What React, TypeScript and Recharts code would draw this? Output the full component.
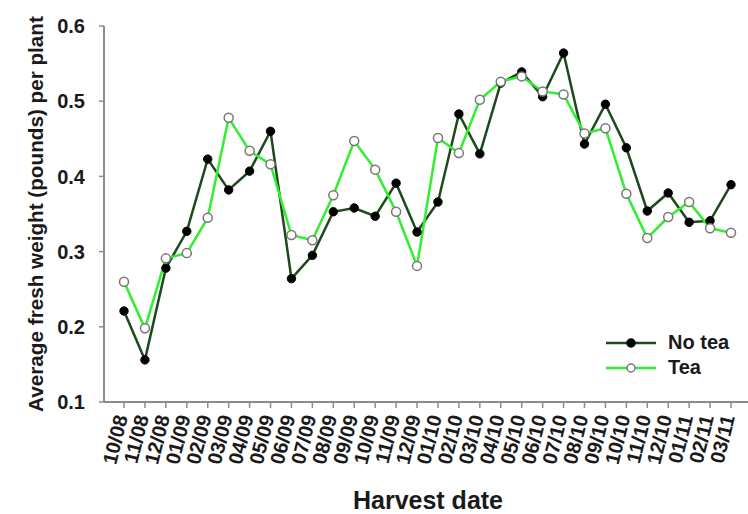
import React from 'react';
import { LineChart, Line, XAxis, YAxis, Legend, Label } from 'recharts';

const dates = [
    '10/08', '11/08', '12/08', '01/09', '02/09', '03/09', '04/09', '05/09', '06/09', '07/09',
    '08/09', '09/09', '10/09', '11/09', '12/09', '01/10', '02/10', '03/10', '04/10', '05/10',
    '06/10', '07/10', '08/10', '09/10', '10/10', '11/10', '12/10', '01/11', '02/11', '03/11',
];

const noTea = [
    0.221, 0.156, 0.278, 0.327, 0.423, 0.382, 0.407, 0.460, 0.264, 0.295,
    0.353, 0.358, 0.347, 0.391, 0.326, 0.366, 0.483, 0.430, 0.524, 0.539,
    0.506, 0.564, 0.443, 0.496, 0.438, 0.354, 0.378, 0.339, 0.341, 0.389,
];

const tea = [
    0.260, 0.198, 0.291, 0.298, 0.345, 0.478, 0.434, 0.416, 0.322, 0.315,
    0.375, 0.447, 0.409, 0.353, 0.281, 0.451, 0.431, 0.502, 0.526, 0.533,
    0.513, 0.509, 0.457, 0.464, 0.377, 0.318, 0.346, 0.366, 0.331, 0.325,
];

const yTicks = [0.1, 0.2, 0.3, 0.4, 0.5, 0.6];

const data = dates.map((d, i) => ({ date: d, noTea: noTea[i], tea: tea[i] }));

const DARK = '#1c4a1c';
const LIGHT = '#2fef2f';
const AXIS = '#8c8c8c';
const TEXT = '#1a1a1a';
const FONT = '"Liberation Sans", Arial, sans-serif';

function DateTick(props: any) {
    const { x, y, payload } = props;
    const ax = x + 4;
    const ay = y + 7;
    return (
        <text
            x={ax}
            y={ay}
            transform={`rotate(-76, ${ax}, ${ay})`}
            textAnchor="end"
            fontSize={20}
            fontWeight="bold"
            fontFamily={FONT}
            fill={TEXT}
        >
            {payload.value}
        </text>
    );
}

function LegendBox() {
    const rows = [
        { name: 'No tea', color: DARK, fill: '#000', stroke: '#000' },
        { name: 'Tea', color: LIGHT, fill: '#fff', stroke: '#777' },
    ];
    return (
        <div style={{ fontFamily: FONT }}>
            {rows.map(r => (
                <div key={r.name} style={{ display: 'flex', alignItems: 'center', height: 25 }}>
                    <svg width={50} height={12} style={{ marginRight: 12 }}>
                        <line x1={0} y1={6} x2={50} y2={6} stroke={r.color} strokeWidth={2.5} />
                        <circle cx={25} cy={6} r={4} fill={r.fill} stroke={r.stroke} strokeWidth={1.5} />
                    </svg>
                    <span style={{ fontSize: 20, fontWeight: 'bold', color: TEXT }}>{r.name}</span>
                </div>
            ))}
        </div>
    );
}

export default function App() {
    return (
        <div style={{ position: 'fixed', left: 0, top: 0, width: 748, height: 514, overflow: 'hidden', background: '#fff' }}>
            <LineChart
                width={760}
                height={514}
                data={data}
                margin={{ top: 26, right: 8, left: 44, bottom: 0 }}
            >
                <XAxis
                    dataKey="date"
                    interval={0}
                    padding={{ left: 20, right: 21 }}
                    height={112}
                    tickSize={6}
                    tickMargin={2}
                    tick={<DateTick />}
                    axisLine={{ stroke: AXIS, strokeWidth: 2 }}
                    tickLine={{ stroke: AXIS, strokeWidth: 1.5 }}
                >
                    <Label
                        value="Harvest date"
                        position="insideBottom"
                        offset={5}
                        style={{ fontSize: 25, fontWeight: 'bold', fontFamily: FONT, fill: TEXT }}
                    />
                </XAxis>
                <XAxis
                    xAxisId="top"
                    orientation="top"
                    dataKey="date"
                    height={0}
                    tick={false}
                    tickLine={false}
                    axisLine={{ stroke: AXIS, strokeWidth: 2 }}
                />
                <YAxis
                    domain={[0.1, 0.6]}
                    ticks={yTicks}
                    width={60}
                    tickSize={5}
                    tickMargin={14}
                    tickFormatter={(v: number) => v.toFixed(1)}
                    tick={{ fontSize: 20, fontWeight: 'bold', fontFamily: FONT, fill: TEXT }}
                    axisLine={{ stroke: AXIS, strokeWidth: 2 }}
                    tickLine={{ stroke: AXIS, strokeWidth: 1.5 }}
                >
                    <Label
                        value="Average fresh weight (pounds) per plant"
                        angle={-90}
                        position="center"
                        dx={-38}
                        style={{ fontSize: 20.7, fontWeight: 'bold', fontFamily: FONT, fill: TEXT, textAnchor: 'middle' }}
                    />
                </YAxis>
                <Legend
                    layout="vertical"
                    align="center"
                    verticalAlign="middle"
                    content={() => <LegendBox />}
                    wrapperStyle={{ position: 'absolute', left: 606, top: 330, width: 150, bottom: 'auto', right: 'auto' }}
                />
                <Line
                    type="linear"
                    dataKey="noTea"
                    name="No tea"
                    stroke={DARK}
                    strokeWidth={2.5}
                    dot={{ r: 4.2, fill: '#000', stroke: '#000', strokeWidth: 1 }}
                    activeDot={false}
                    isAnimationActive={false}
                />
                <Line
                    type="linear"
                    dataKey="tea"
                    name="Tea"
                    stroke={LIGHT}
                    strokeWidth={2.5}
                    dot={{ r: 4.5, fill: '#fff', stroke: '#777', strokeWidth: 1.5 }}
                    activeDot={false}
                    isAnimationActive={false}
                />
            </LineChart>
        </div>
    );
}
